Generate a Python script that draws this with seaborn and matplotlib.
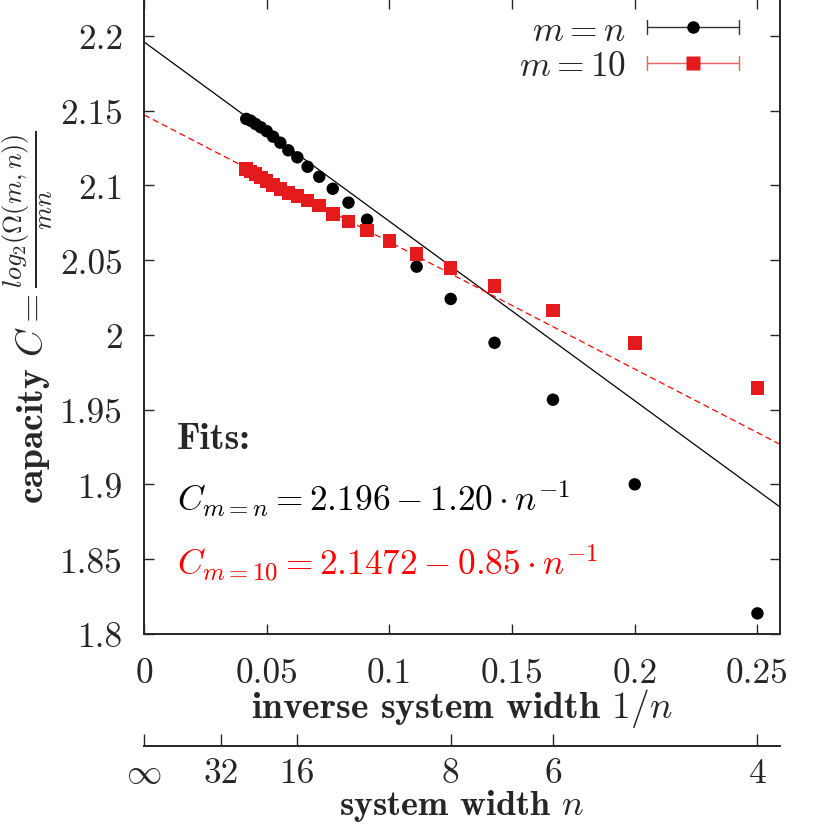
import seaborn as sns
import matplotlib.pyplot as plt
import pandas as pd
import numpy as np
from matplotlib.lines import Line2D
from matplotlib.legend_handler import HandlerBase

# data
n_sq = [4, 5, 6, 7, 8, 9, 10, 11, 12, 13, 14, 15, 16, 17, 18, 19, 20, 21, 22, 23, 24]
C_sq = [1.8138, 1.9001, 1.9567, 1.9948, 2.0241, 2.0457, 2.0630, 2.0771, 2.0885, 2.0978,
        2.1058, 2.1125, 2.1188, 2.1235, 2.1286, 2.1326, 2.1363, 2.1389, 2.1411, 2.1433, 2.1445]
n_10 = [4, 5, 6, 7, 8, 9, 10, 11, 12, 13, 14, 15, 16, 17, 18, 19, 20, 21, 22, 23, 24]
C_10 = [1.9647, 1.9948, 2.0165, 2.0326, 2.0448, 2.0541, 2.0630, 2.0700, 2.0760, 2.0810,
        2.0865, 2.0898, 2.0930, 2.0948, 2.0977, 2.1003, 2.1028, 2.1052, 2.1075, 2.1092, 2.1110]

fit_sq = (2.196, -1.20)
fit_10 = (2.1472, -0.85)

x_ticks = [0, 0.05, 0.1, 0.15, 0.2, 0.25]
y_ticks = [1.8, 1.85, 1.9, 1.95, 2.0, 2.05, 2.1, 2.15, 2.2]
n_ticks = [np.inf, 32, 16, 8, 6, 4]
n_labels = [r"$\infty$", "32", "16", "8", "6", "4"]

XMAX = 0.2592
RED = "#e41a1c"
FS = 25.5      # tick labels
FS_M = 25.5    # math texts
FS_B = 27      # bold labels

sns.set_style("ticks")
plt.rcParams["font.family"] = ["cmr10"]
plt.rcParams["mathtext.fontset"] = "cm"
plt.rcParams["axes.unicode_minus"] = False
plt.rcParams["axes.formatter.use_mathtext"] = True


class ErrorbarKey(HandlerBase):
    def create_artists(self, legend, orig, xd, yd, w, h, fs, trans):
        c = orig.get_color()
        y = h / 2 - yd
        x0, x1 = -xd, -xd + w
        cap = h * 0.28
        arts = [Line2D([x0, x1], [y, y], color=c, lw=1),
                Line2D([x0, x0], [y - cap, y + cap], color=c, lw=1),
                Line2D([x1, x1], [y - cap, y + cap], color=c, lw=1),
                Line2D([(x0 + x1) / 2], [y], marker=orig.get_marker(), ms=orig.get_markersize(),
                       color=orig.get_markerfacecolor(), mec="none", ls="none")]
        for a in arts:
            a.set_transform(trans)
        return arts


df_sq = pd.DataFrame({"x": 1 / np.array(n_sq), "C": C_sq})
df_10 = pd.DataFrame({"x": 1 / np.array(n_10), "C": C_10})

fig = plt.figure(figsize=(8.29, 8.29), dpi=100)
ax = fig.add_axes([0.1737, 0.234, 0.7672, 0.766])

xs = np.array([0, XMAX])
sns.lineplot(x=xs, y=fit_sq[0] + fit_sq[1] * xs, color="black", lw=0.9, ax=ax)
sns.lineplot(x=xs, y=fit_10[0] + fit_10[1] * xs, color="red", lw=0.9, ax=ax)
ax.lines[-1].set_dashes([5, 3])

sns.scatterplot(data=df_sq, x="x", y="C", color="black", marker="o", s=80,
                edgecolor="none", ax=ax, legend=False, zorder=3)
sns.scatterplot(data=df_10, x="x", y="C", color=RED, marker="s", s=95,
                edgecolor="none", ax=ax, legend=False, zorder=4)

ax.set_xlim(0, XMAX)
ax.set_ylim(1.8, 2.2247)
ax.set_xticks(x_ticks, labels=[f"{v:g}" for v in x_ticks])
ax.set_yticks(y_ticks, labels=[f"{v:g}" for v in y_ticks])
ax.tick_params(direction="in", length=7, width=1, top=True, right=True, labelsize=FS)
ax.tick_params(axis="x", pad=17)
ax.tick_params(axis="y", pad=15)
for s in ax.spines.values():
    s.set_linewidth(1.4)

ax.set_xlabel(r"inverse system width $1/n$", fontsize=FS_B, fontfamily="cmb10", labelpad=-2)
ax.set_ylabel(r"capacity $C = \frac{log_2(\Omega(m,n))}{mn}$", fontsize=FS_B,
              fontfamily="cmb10", labelpad=4)

# second scale: system width n
sec = ax.secondary_xaxis(-0.176)
sec.set_xticks([1 / v for v in n_ticks], labels=n_labels)
sec.tick_params(direction="in", length=9, width=1, labelsize=FS, pad=8)
sec.spines["bottom"].set_linewidth(1.4)
sec.set_xlabel(r"system width $n$", fontsize=26, fontfamily="cmb10", labelpad=-1)

ax.text(0.0135, 1.931, "Fits:", fontsize=FS_B, fontfamily="cmb10", va="center")
ax.text(0.0135, 1.891, r"$C_{m=n} = 2.196 - 1.20 \cdot n^{-1}$", fontsize=FS_M,
        color="black", va="center")
ax.text(0.0135, 1.848, r"$C_{m=10} = 2.1472 - 0.85 \cdot n^{-1}$", fontsize=FS_M,
        color="red", va="center")

h1 = Line2D([], [], color="#333333", marker="o", ms=9, markerfacecolor="black")
h2 = Line2D([], [], color="#f06060", marker="s", ms=10, markerfacecolor=RED)
ax.legend([h1, h2], [r"$m = n$", r"$m = 10$"], handler_map={Line2D: ErrorbarKey()},
          loc="upper right", bbox_to_anchor=(0.9355, 0.975), frameon=False,
          markerfirst=False, fontsize=FS_M, handlelength=2.6, handletextpad=0.6,
          borderpad=0, borderaxespad=0, labelspacing=0.1)

fig.savefig("out.png", dpi=100)
